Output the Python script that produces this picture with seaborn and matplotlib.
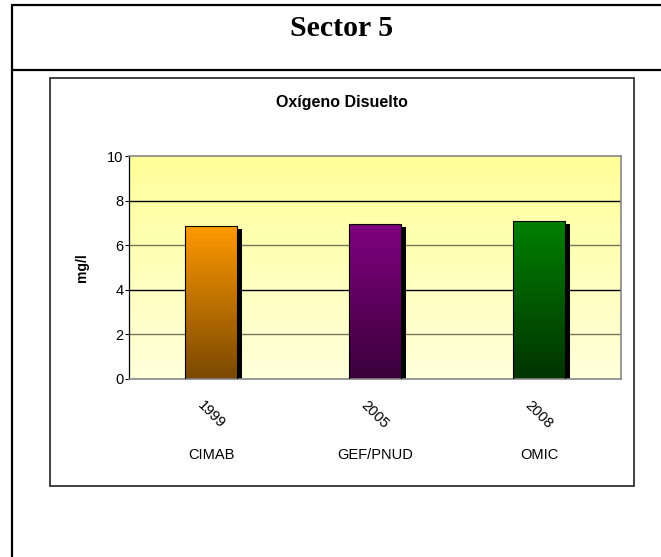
import matplotlib
matplotlib.use('Agg')
import matplotlib.pyplot as plt
import matplotlib.transforms as mtransforms
from matplotlib.colors import LinearSegmentedColormap
from matplotlib.patches import Rectangle
from matplotlib.lines import Line2D
import numpy as np
import pandas as pd
import seaborn as sns

# data
years = ['1999', '2005', '2008']
sources = ['CIMAB', 'GEF/PNUD', 'OMIC']
oxygen = [6.85, 6.95, 7.1]
top_colors = ['#FF9900', '#800080', '#008000']
bottom_colors = ['#7A4800', '#3A003A', '#003300']

df = pd.DataFrame({'source': sources, 'value': oxygen})

sns.set_style('white')
plt.rcParams['font.family'] = ['Liberation Sans', 'DejaVu Sans']
plt.rcParams['text.color'] = 'black'
plt.rcParams['axes.labelcolor'] = 'black'
plt.rcParams['ytick.color'] = 'black'
plt.rcParams['xtick.color'] = 'black'

W, H = 661, 557
fig = plt.figure(figsize=(W / 100, H / 100), dpi=100)

def fx(px):
    return px / W

def fy(py):
    return 1 - py / H

# outer table frame
fig.add_artist(Line2D([fx(12), fx(12)], [fy(5), fy(557)], color='black', lw=1.6))
fig.add_artist(Line2D([fx(12), 1], [fy(5), fy(5)], color='black', lw=1.6))
fig.add_artist(Line2D([fx(12), 1], [fy(70), fy(70)], color='black', lw=1.6))
fig.text(fx(342), fy(29), 'Sector 5', ha='center', va='center', fontsize=21.5,
         fontweight='bold', family=['Liberation Serif', 'DejaVu Serif'])

# chart box
fig.add_artist(Rectangle((fx(50), fy(486)), fx(634) - fx(50), fy(78) - fy(486),
                         transform=fig.transFigure, fill=False, edgecolor='#333333', lw=1.3))
fig.text(fx(342), fy(103), 'Oxígeno Disuelto', ha='center', va='center',
         fontsize=11.5, fontweight='bold')

ax = fig.add_axes([fx(129), fy(379), fx(621) - fx(129), fy(156) - fy(379)])

sns.barplot(data=df, x='source', y='value', width=0.32, ax=ax, color='white',
            edgecolor='black', linewidth=0.8, zorder=3)

ax.set_xlim(-0.5, 2.5)
ax.set_ylim(0, 10)

# plot area background gradient
bg = LinearSegmentedColormap.from_list('bg', ['#FFFFDC', '#FFFF99'])
ax.imshow(np.linspace(0, 1, 256).reshape(-1, 1), extent=[-0.5, 2.5, 0, 10],
          origin='lower', aspect='auto', cmap=bg, zorder=0)

for yv, c in [(2, '#77775a'), (4, 'black'), (6, '#77775a'), (8, 'black')]:
    ax.axhline(yv, color=c, lw=1.0, zorder=1)

shift = ax.transData + mtransforms.ScaledTranslation(5 / 100, -3 / 100, fig.dpi_scale_trans)
for i, p in enumerate(ax.patches):
    x0, w, h = p.get_x(), p.get_width(), p.get_height()
    ax.add_patch(Rectangle((x0, 0), w, h, transform=shift, facecolor='black',
                           edgecolor='none', zorder=2))
    cm = LinearSegmentedColormap.from_list('b%d' % i, [bottom_colors[i], top_colors[i]])
    im = ax.imshow(np.linspace(0, 1, 256).reshape(-1, 1), extent=[x0, x0 + w, 0, h],
                   origin='lower', aspect='auto', cmap=cm, zorder=2.5)
    im.set_clip_path(p)
    p.set_facecolor('none')

ax.set_xlim(-0.5, 2.5)
ax.set_ylim(0, 10)

ax.set_yticks([0, 2, 4, 6, 8, 10])
ax.tick_params(axis='y', left=True, length=3, width=0.8, pad=1, labelsize=10.5, color='black')
ax.set_xticks([])
ax.set_xlabel('')
ax.set_ylabel('mg/l', fontsize=10, fontweight='bold', labelpad=13)

for s in ['top', 'right', 'bottom']:
    ax.spines[s].set_color('#888888')
    ax.spines[s].set_linewidth(1.2)
ax.spines['left'].set_color('black')
ax.spines['left'].set_linewidth(0.9)

for i in range(len(sources)):
    ax.annotate(years[i], xy=(i, 0), xytext=(0, -26), textcoords='offset points',
                ha='center', va='center', rotation=-45, fontsize=10.5)
    ax.annotate(sources[i], xy=(i, 0), xytext=(0, -55), textcoords='offset points',
                ha='center', va='center', fontsize=10.5)

fig.savefig('out.png', dpi=100)
